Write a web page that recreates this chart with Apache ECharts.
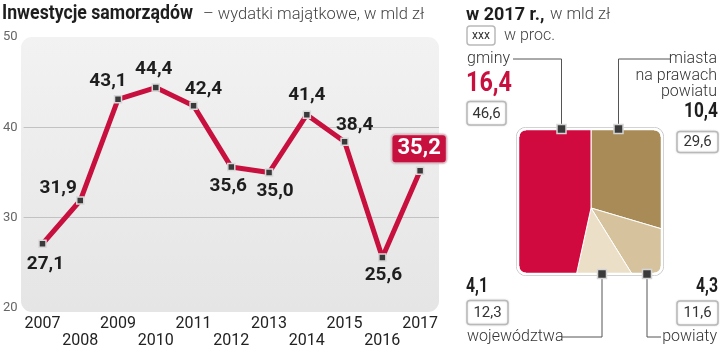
<!DOCTYPE html>
<html><head><meta charset="utf-8">
<script src="https://cdn.jsdelivr.net/npm/echarts@6/dist/echarts.min.js"></script>
<style>html,body{margin:0;padding:0;background:#fff}#c{width:720px;height:349px}</style>
</head><body><div id="c"></div>
<script>
// ---- data ----
const years = ['2007','2008','2009','2010','2011','2012','2013','2014','2015','2016','2017'];
const values = [27.1, 31.9, 43.1, 44.4, 42.4, 35.6, 35.0, 41.4, 38.4, 25.6, 35.2];
const yTicks = [20, 30, 40, 50];
const pieNames = ['miasta na prawach powiatu', 'powiaty', 'województwa', 'gminy'];
const pieValues = [10.4, 4.3, 4.1, 16.4];      // mld zł
const pieShares = [29.6, 11.6, 12.3, 46.6];    // w proc.

// ---- styling ----
const SANS = "Roboto,'Liberation Sans',sans-serif";
const RED = '#c8103e';
const pieColors = ['#a88b57', '#d6c39e', '#ebdfc7', '#d00a3f'];
const labelOffsets = [[3,20],[-22,-12],[-10,-18],[-2,-18],[10,-16],[-3,19],[6,19],[0,-19],[10,-17],[1,18],[-1,-22]];
const fmt = v => v.toFixed(1).replace('.', ',');

const mctx = document.createElement('canvas').getContext('2d');
function fitScale(text, font, targetW) {
  mctx.font = font;
  const w = mctx.measureText(text).width;
  return Math.min(1, targetW / w);
}

const chart = echarts.init(document.getElementById('c'), null, {renderer:'canvas'});

const lineData = values.map((v, i) => {
  const d = {value: v, label: {offset: labelOffsets[i]}};
  if (i === values.length - 1) {
    d.label = {offset: labelOffsets[i], color:'#fff', fontSize:22, backgroundColor: RED,
      padding:[3,5,2,5], borderRadius:3, borderColor:'#efc3cf', borderWidth:1.5,
      shadowColor:'rgba(0,0,0,0.25)', shadowBlur:2};
  }
  return d;
});

function fmtIdx(i) { return fmt(pieValues[i]); }
function shareTxt(i) { return fmt(pieShares[i]); }

function box(x, y, w, h, t) {
  return [
    {type:'rect', z:60, shape:{x:x, y:y, width:w, height:h, r:3},
     style:{fill:'#fff', stroke:'#b9b9b9', lineWidth:1.5, shadowColor:'rgba(0,0,0,0.15)', shadowBlur:2}},
    {type:'text', z:61, x:x + w/2, y:y + h/2 + 0.5,
     style:{text:t, font:'15px ' + SANS, fill:'#333', align:'center', verticalAlign:'middle'}}
  ];
}
function txt(x, y, t, font, fill, align, targetW) {
  const el = {type:'text', z:61, x:x, y:y, style:{text:t, font:font, fill:fill || '#333', align:align || 'left', verticalAlign:'middle'}};
  if (targetW) { el.scaleX = fitScale(t, font, targetW); }
  return el;
}
function marker(x, y) {
  return {type:'rect', z:62, shape:{x:x-4.5, y:y-4.5, width:9, height:9},
    style:{fill:'#3a3a3a', stroke:'#d5d5d5', lineWidth:1.5}};
}
function leader(points) {
  return {type:'polyline', z:59, shape:{points:points}, style:{stroke:'#555', lineWidth:1, fill:null}};
}

// white mask around the rounded square that clips the pie
const ix0 = 519, iy0 = 130, ix1 = 661, iy1 = 273, rr = 7;
const maskEls = [
  {x:468, y:90, w:246, h:iy0-90},
  {x:468, y:iy1, w:246, h:330-iy1},
  {x:468, y:iy0, w:ix0-468, h:iy1-iy0},
  {x:ix1, y:iy0, w:714-ix1, h:iy1-iy0}
].map(b => ({type:'rect', z:50, shape:{x:b.x, y:b.y, width:b.w, height:b.h}, style:{fill:'#fff', stroke:null}}));
function cornerPoly(cx, cy, kx, ky, a0) {
  const pts = [[kx, ky]];
  for (let k = 0; k <= 10; k++) {
    const a = (a0 + k * 9) * Math.PI / 180;
    pts.push([cx + rr * Math.cos(a), cy + rr * Math.sin(a)]);
  }
  return {type:'polygon', z:50, shape:{points:pts}, style:{fill:'#fff', stroke:'#fff', lineWidth:0.5}};
}
maskEls.push(cornerPoly(ix0+rr, iy0+rr, ix0, iy0, 180));
maskEls.push(cornerPoly(ix1-rr, iy0+rr, ix1, iy0, 270));
maskEls.push(cornerPoly(ix1-rr, iy1-rr, ix1, iy1, 0));
maskEls.push(cornerPoly(ix0+rr, iy1-rr, ix0, iy1, 90));

const graphics = [
  // plot background
  {type:'rect', z:-5, shape:{x:21, y:37, width:418, height:275, r:11},
   style:{fill:new echarts.graphic.LinearGradient(0,0,0,1,[{offset:0,color:'#f2f2f2'},{offset:1,color:'#e5e5e5'}])}},
  // titles
  txt(2, 14, 'Inwestycje samorządów', 'bold 21px ' + SANS, '#1e1e1e', 'left', 191),
  txt(203, 15, '– wydatki majątkowe, w mld zł', '300 16.5px ' + SANS, '#444', 'left', 227),
  txt(466, 15, 'w 2017 r.,', 'bold 18px ' + SANS, '#1e1e1e', 'left', 79),
  txt(550, 15, 'w mld zł', '300 16.5px ' + SANS, '#444'),
  {type:'rect', z:60, shape:{x:467, y:26, width:28, height:19, r:3}, style:{fill:'#fff', stroke:'#b9b9b9', lineWidth:1.5}},
  txt(481, 36, 'xxx', '12px ' + SANS, '#333', 'center', 18),
  txt(504, 36, 'w proc.', '300 16px ' + SANS, '#444'),
  ...maskEls,
  {type:'rect', z:51, shape:{x:516.5, y:127.5, width:147, height:148, r:9}, style:{fill:null, stroke:'#c4c4c4', lineWidth:1}},
  {type:'rect', z:51, shape:{x:518, y:129, width:144, height:145, r:8}, style:{fill:null, stroke:'#fff', lineWidth:2.5}},
  // gminy
  txt(467, 59, 'gminy', '300 16px ' + SANS, '#333'),
  leader([[513,59],[561.5,59],[561.5,129]]),
  marker(561.5, 129),
  txt(466, 84, fmtIdx(3), 'bold 28px ' + SANS, RED, 'left', 46),
  ...box(467, 101.5, 39, 23.5, shareTxt(3)),
  // miasta
  txt(717, 59, 'miasta', '300 16px ' + SANS, '#333', 'right'),
  txt(717, 76, 'na prawach', '300 16px ' + SANS, '#333', 'right'),
  txt(717, 92, 'powiatu', '300 16px ' + SANS, '#333', 'right'),
  leader([[670,59],[618.5,59],[618.5,129]]),
  marker(618.5, 129),
  txt(718, 112, fmtIdx(0), 'bold 20px ' + SANS, '#1e1e1e', 'right', 34),
  ...box(677, 131.5, 41, 21, shareTxt(0)),
  // wojewodztwa
  txt(466, 287, fmtIdx(2), 'bold 20px ' + SANS, '#1e1e1e', 'left', 22),
  ...box(467, 300.5, 41, 24, shareTxt(2)),
  txt(467, 337, 'województwa', '300 16px ' + SANS, '#333'),
  leader([[562,337],[602,337],[602,274]]),
  marker(602, 274),
  // powiaty
  txt(718, 287, fmtIdx(1), 'bold 20px ' + SANS, '#1e1e1e', 'right', 22),
  ...box(677, 301, 41, 24, shareTxt(1)),
  txt(717, 337, 'powiaty', '300 16px ' + SANS, '#333', 'right'),
  leader([[661,337],[647,337],[647,274]]),
  marker(647, 274)
];

chart.setOption({
  animation: false,
  grid: {left:21, right:281, top:37, bottom:37, containLabel:false},
  xAxis: {
    type:'category', data: years, boundaryGap:true,
    axisLine:{show:false}, axisTick:{show:false},
    axisLabel:{interval:0, margin:7, fontFamily:SANS, fontSize:16, color:'#222', lineHeight:17,
      formatter:(v, i) => (i % 2 === 0 ? v : '\n' + v)}
  },
  yAxis: {
    type:'value', min:yTicks[0], max:yTicks[yTicks.length-1], interval:10,
    axisLine:{show:false}, axisTick:{show:false},
    axisLabel:{margin:6, fontFamily:SANS, fontSize:13, color:'#666'},
    splitLine:{show:true, lineStyle:{color:['rgba(0,0,0,0)','#c2c2c2','#c2c2c2','rgba(0,0,0,0)'], width:1}}
  },
  series: [
    {
      type:'line', data: lineData, z:3,
      lineStyle:{color:RED, width:5, join:'round'},
      symbol:'rect', symbolSize:7,
      itemStyle:{color:'#3a3a3a', borderColor:'#d8d8d8', borderWidth:1.5},
      label:{show:true, position:'inside', formatter:p => fmt(p.value),
        fontFamily:SANS, fontWeight:'bold', fontSize:19, color:'#1e1e1e'},
      emphasis:{disabled:true}
    },
    {
      type:'pie', center:[591, 208], radius:112, startAngle:90, clockwise:true, z:2,
      silent:true, label:{show:false}, labelLine:{show:false},
      itemStyle:{borderColor:'#fff', borderWidth:1},
      data: pieShares.map((v, i) => ({value:v, name:pieNames[i], itemStyle:{color:pieColors[i]}}))
    }
  ],
  graphic: {elements: graphics}
});
</script>
</body></html>
